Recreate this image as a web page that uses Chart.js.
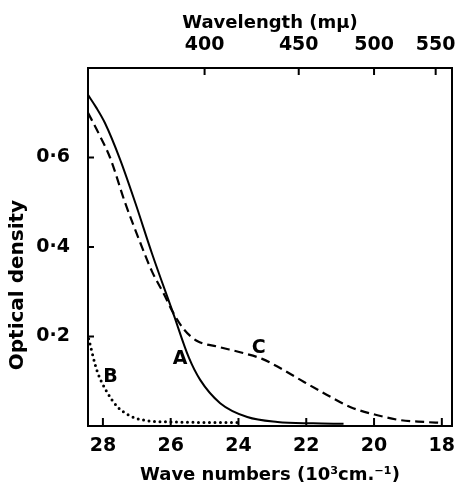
<!DOCTYPE html>
<html>
<head>
<meta charset="utf-8">
<script src="https://cdn.jsdelivr.net/npm/chart.js@4"></script>
<style>
  html, body { margin: 0; padding: 0; background: #fff; }
  #wrap { width: 461px; height: 484px; position: relative; }
</style>
</head>
<body>
<div id="wrap"><canvas id="c"></canvas></div>
<script>
// wave numbers in 10^3 cm-1, optical density
const waveA = [28.44, 28.2, 27.94, 27.5, 27.05, 26.55, 25.94, 25.46, 25.13, 24.54, 23.74, 22.85, 21.8, 20.9]
const odA = [0.74, 0.712, 0.677, 0.597, 0.5, 0.385, 0.255, 0.152, 0.103, 0.051, 0.02, 0.009, 0.006, 0.005]

const waveB = [28.42, 28.18, 27.88, 27.56, 27.3, 27.05, 26.6, 26.0, 25.0, 23.9]
const odB = [0.195, 0.125, 0.076, 0.042, 0.027, 0.018, 0.011, 0.009, 0.008, 0.008]

const waveC = [28.44, 28.1, 27.79, 27.35, 26.9, 26.55, 26.2, 25.94, 25.6, 25.22, 24.6, 23.86, 23.3, 22.76, 22.17, 21.4, 20.69, 19.9, 19.21, 18.5, 18.03]
const odC = [0.70, 0.65, 0.60, 0.50, 0.41, 0.345, 0.295, 0.255, 0.215, 0.19, 0.177, 0.163, 0.15, 0.129, 0.103, 0.07, 0.042, 0.024, 0.013, 0.009, 0.007]

const waveTicks = [28, 26, 24, 22, 20, 18]
const odTicks = [0.2, 0.4, 0.6]
const odTickLabels = ["0·2", "0·4", "0·6"]
const wavelengthTicks = [400, 450, 500, 550] // mμ

const curveLabels = ["A", "B", "C"]
const curveLabelWave = [25.72, 27.78, 23.4]
const curveLabelOd = [0.15, 0.11, 0.175]

const tickFont = { family: "DejaVu Sans", size: 19, weight: "bold" }
const titleFont = { family: "DejaVu Sans", size: 18, weight: "bold", lineHeight: 1 }

const toPoints = (xs, ys) => xs.map((x, i) => ({ x: x, y: ys[i] }))

// frame + inward ticks + curve letters + y title
const decorPlugin = {
  id: "decor",
  afterDraw(chart) {
    const { ctx, chartArea: a, scales } = chart
    ctx.save()
    ctx.strokeStyle = "#000"
    ctx.lineWidth = 2
    ctx.strokeRect(a.left, a.top, a.right - a.left, a.bottom - a.top)

    ctx.beginPath()
    waveTicks.forEach((w) => {
      const x = scales.x.getPixelForValue(w)
      ctx.moveTo(x, a.bottom)
      ctx.lineTo(x, a.bottom - 8)
    })
    wavelengthTicks.forEach((l) => {
      const x = scales.x2.getPixelForValue(1e4 / l)
      ctx.moveTo(x, a.top)
      ctx.lineTo(x, a.top + 7)
    })
    odTicks.forEach((v) => {
      const y = scales.y.getPixelForValue(v)
      ctx.moveTo(a.left, y)
      ctx.lineTo(a.left + 6, y)
    })
    ctx.stroke()

    ctx.fillStyle = "#000"
    ctx.font = "bold 19px 'DejaVu Sans'"
    ctx.textAlign = "center"
    ctx.textBaseline = "middle"
    curveLabels.forEach((t, i) => {
      ctx.fillText(t, scales.x.getPixelForValue(curveLabelWave[i]), scales.y.getPixelForValue(curveLabelOd[i]))
    })

    // y axis title sits a little below the middle in the original
    ctx.font = "bold 20px 'DejaVu Sans'"
    ctx.translate(18, scales.y.getPixelForValue(0.315))
    ctx.rotate(-Math.PI / 2)
    ctx.fillText("Optical density", 0, 0)
    ctx.restore()
  },
}

const noSidePad = (s) => { s.paddingLeft = 0; s.paddingRight = 0 }

new Chart(document.getElementById("c"), {
  type: "line",
  data: {
    datasets: [
      {
        label: "A",
        data: toPoints(waveA, odA),
        borderColor: "#000",
        borderWidth: 2,
        pointRadius: 0,
        cubicInterpolationMode: "monotone",
      },
      {
        label: "B",
        data: toPoints(waveB, odB),
        borderColor: "#000",
        borderWidth: 3,
        borderDash: [0, 5.5],
        borderCapStyle: "round",
        pointRadius: 0,
        cubicInterpolationMode: "monotone",
      },
      {
        label: "C",
        data: toPoints(waveC, odC),
        borderColor: "#000",
        borderWidth: 2.2,
        borderDash: [9, 5],
        pointRadius: 0,
        cubicInterpolationMode: "monotone",
      },
    ],
  },
  options: {
    responsive: true,
    maintainAspectRatio: false,
    animation: false,
    layout: { padding: { right: 9, left: 0, top: 0, bottom: 0 } },
    plugins: { legend: { display: false }, tooltip: { enabled: false } },
    scales: {
      x: {
        type: "linear",
        position: "bottom",
        reverse: true,
        min: 17.7,
        max: 28.44,
        afterBuildTicks: (s) => { s.ticks = waveTicks.map((v) => ({ value: v })) },
        afterFit: (s) => { s.height = 58; noSidePad(s) },
        grid: { display: false, drawTicks: false },
        border: { display: false },
        ticks: { color: "#000", font: tickFont, padding: 9, maxRotation: 0, autoSkip: false },
        title: { display: true, text: "Wave numbers (10³cm.⁻¹)", color: "#000", font: titleFont, padding: { top: 0, bottom: 0 } },
      },
      x2: {
        type: "linear",
        position: "top",
        reverse: true,
        min: 17.7,
        max: 28.44,
        afterBuildTicks: (s) => { s.ticks = wavelengthTicks.map((l) => ({ value: 1e4 / l })) },
        afterFit: (s) => { s.height = 68; noSidePad(s) },
        grid: { display: false, drawTicks: false },
        border: { display: false },
        ticks: {
          color: "#000", font: tickFont, padding: 12, maxRotation: 0, autoSkip: false,
          callback: (v) => String(Math.round(1e4 / v)),
        },
        title: { display: true, text: "Wavelength (mμ)", color: "#000", font: titleFont, padding: { top: 14, bottom: 0 } },
      },
      y: {
        type: "linear",
        position: "left",
        min: 0,
        max: 0.8,
        afterBuildTicks: (s) => { s.ticks = odTicks.map((v) => ({ value: v })) },
        afterFit: (s) => { s.width = 88 },
        grid: { display: false, drawTicks: false },
        border: { display: false },
        ticks: {
          color: "#000", font: tickFont, padding: 18, autoSkip: false,
          callback: (v) => odTickLabels[odTicks.indexOf(Math.round(v * 10) / 10)],
        },
        title: { display: false },
      },
    },
  },
  plugins: [decorPlugin],
})
</script>
</body>
</html>
